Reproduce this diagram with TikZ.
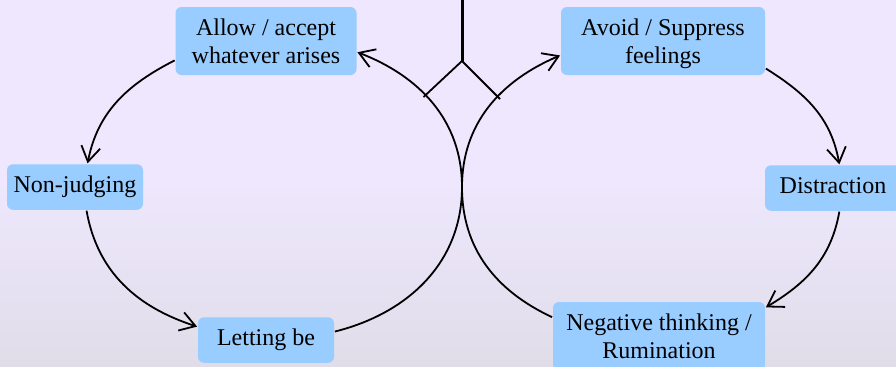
\documentclass[tikz,border=0pt]{standalone}
\usepackage{fontspec}
\setmainfont{Liberation Serif}
\usepackage{xcolor}
\usepackage{tikz}
\usetikzlibrary{arrows.meta, positioning}
\definecolor{stageblue}{RGB}{153,204,255}
\definecolor{bglilac}{RGB}{238,231,253}
\definecolor{bggrey}{RGB}{224,221,233}

\begin{document}
\begin{tikzpicture}[x=0.5pt, y=0.5pt,
      stage/.style={fill=stageblue, rounded corners=3pt, align=center,
                    minimum width=68pt, minimum height=22.75pt, inner sep=2pt,
                    font=\fontsize{12}{14}\selectfont},
      oneline/.style={text height=8.4pt, text depth=2.6pt},
      twoline/.style={minimum height=34pt},
      >={Straight Barb[length=7.5pt, width=9.5pt]}, line width=0.9pt]
    \useasboundingbox (0,0) rectangle (896,366);
    \clip (0,0) rectangle (896,366);
    \shade[top color=bglilac, bottom color=bggrey, middle color=bglilac]
      (0,0) rectangle (896,366);
    \node[stage, twoline, minimum width=90.5pt] (allow) at (266,325) {Allow / accept\\whatever arises};
    \node[stage, oneline] (nonjudge) at (75,179) {Non-judging};
    \node[stage, oneline] (letbe) at (266,26) {Letting be};
    \node[stage, twoline, minimum width=102pt] (avoid) at (663,325) {Avoid / Suppress\\\smash{feelings}};
    \node[stage, oneline] (distract) at (833,178) {Distraction};
    \node[stage, twoline, minimum width=106pt] (rumin) at (659,30) {Negative thinking /\\Rumination};
    \coordinate (meet) at (462,179);
    \coordinate (stem) at (462,366);
    \coordinate (fork) at (462,305);
    \coordinate (forkl) at (423.5,269);
    \coordinate (forkr) at (500,267);
    % left loop
    \draw[->] (allow.192) to[out=207, in=79] (nonjudge.62);
    \draw[->] (nonjudge.296) to[out=-80, in=162] (letbe.169);
    \draw[->] (letbe.7) to[out=14, in=-90] (meet) to[out=90, in=-21] (allow.353);
    % right loop
    \draw[->] (rumin.170) to[out=155, in=-90] (meet) to[out=90, in=203] (avoid.188);
    \draw[->] (avoid.345) to[out=-32, in=100] (distract.75);
    \draw[->] (distract.285) to[out=-100, in=31] (rumin.15);
    \draw[line width=1.5pt] (stem) -- (fork);
    \draw (forkl) -- (fork) -- (forkr);
  \end{tikzpicture}
\end{document}
